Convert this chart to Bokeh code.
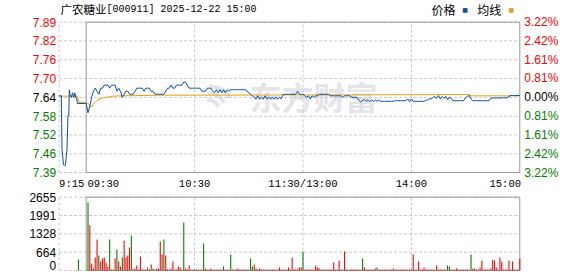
from bokeh.plotting import figure
from bokeh.layouts import column
from bokeh.models import ColumnDataSource, Range1d, LabelSet, Label
from bokeh.core.properties import value
from bokeh.embed import file_html
from bokeh.resources import INLINE

# ---------------- data ----------------
stock_name = "广农糖业"
stock_info = "[000911] 2025-12-22 15:00"
prev_close = 7.64
pct_ticks = [3.22, 2.42, 1.61, 0.81, 0.00, -0.81, -1.61, -2.42, -3.22]
price_tick_labels = ["7.89", "7.82", "7.76", "7.70", "7.64", "7.58", "7.52", "7.46", "7.39"]
pct_tick_labels = ["3.22%", "2.42%", "1.61%", "0.81%", "0.00%", "0.81%", "1.61%", "2.42%", "3.22%"]
tick_colors = ["#ff0000"] * 4 + ["#000000"] + ["#008000"] * 4

time_ticks = [-15, 0, 60, 120, 180, 240]
time_tick_labels = ["9:15", "09:30", "10:30", "11:30/13:00", "14:00", "15:00"]
time_tick_align = ["left", "left", "center", "center", "center", "right"]

vol_ticks = [0, 664, 1328, 1991, 2655]
vol_tick_labels = ["0", "664", "1328", "1991", "2655"]

# call auction (minutes relative to 09:30)
pre_t = [-15.05, -13.78, -13.39, -12.56, -12.01, -11.46, -10.63, -10.07, -9.63, -9.35,
         -8.80, -8.13, -7.58, -6.86, -6.31, -5.76, -5.20, -4.81, 0.0]
pre_price = [7.645, 7.645, 7.47, 7.42, 7.415, 7.42, 7.47, 7.58, 7.58, 7.665,
             7.645, 7.64, 7.655, 7.64, 7.655, 7.64, 7.635, 7.62, 7.62]

# one value per minute, 09:30 .. 15:00 (241 points)
price = [
    7.62, 7.59, 7.61, 7.64, 7.66, 7.67, 7.66, 7.65, 7.67, 7.67,
    7.68, 7.68, 7.68, 7.67, 7.68, 7.68, 7.68, 7.66, 7.67, 7.66,
    7.64, 7.65, 7.66, 7.66, 7.65, 7.65, 7.65, 7.66, 7.67, 7.67,
    7.67, 7.67, 7.66, 7.67, 7.67, 7.67, 7.66, 7.66, 7.65, 7.65,
    7.65, 7.65, 7.65, 7.65, 7.66, 7.67, 7.67, 7.68, 7.67, 7.67,
    7.68, 7.68, 7.68, 7.68, 7.69, 7.69, 7.68, 7.67, 7.67, 7.67,
    7.67, 7.67, 7.67, 7.67, 7.66, 7.66, 7.66, 7.67, 7.67, 7.67,
    7.66, 7.655, 7.665, 7.655, 7.665, 7.655, 7.665, 7.655, 7.665, 7.66,
    7.665, 7.665, 7.665, 7.665, 7.665, 7.665, 7.665, 7.665, 7.665, 7.66,
    7.655, 7.65, 7.645, 7.64, 7.635, 7.645, 7.635, 7.64, 7.635, 7.645,
    7.635, 7.64, 7.635, 7.64, 7.635, 7.64, 7.635, 7.64, 7.635, 7.65,
    7.65, 7.65, 7.65, 7.65, 7.65, 7.65, 7.65, 7.66, 7.65, 7.65,
    7.65, 7.645, 7.64, 7.645, 7.635, 7.645, 7.64, 7.645, 7.645, 7.65,
    7.65, 7.65, 7.65, 7.65, 7.65, 7.645, 7.645, 7.645, 7.645, 7.645,
    7.645, 7.645, 7.64, 7.645, 7.645, 7.645, 7.645, 7.64, 7.64, 7.64,
    7.64, 7.63, 7.625, 7.63, 7.632, 7.627, 7.632, 7.626, 7.632, 7.626,
    7.632, 7.627, 7.632, 7.627, 7.627, 7.627, 7.627, 7.627, 7.627, 7.627,
    7.627, 7.629, 7.629, 7.629, 7.629, 7.629, 7.629, 7.629, 7.635, 7.626,
    7.635, 7.627, 7.627, 7.627, 7.627, 7.627, 7.627, 7.627, 7.63, 7.632,
    7.635, 7.635, 7.64, 7.642, 7.637, 7.646, 7.635, 7.643, 7.637, 7.643,
    7.632, 7.641, 7.637, 7.629, 7.629, 7.629, 7.629, 7.629, 7.629, 7.63,
    7.639, 7.643, 7.646, 7.635, 7.629, 7.629, 7.629, 7.629, 7.629, 7.629,
    7.629, 7.629, 7.629, 7.629, 7.637, 7.638, 7.638, 7.638, 7.638, 7.638,
    7.638, 7.639, 7.638, 7.639, 7.643, 7.646, 7.646, 7.646, 7.646, 7.646,
    7.646,
]

# average price line, read as break points (minute, price)
avg_t = [-15.05, -4.98, -3.87, 0, 1.5, 2, 3.3, 4, 5, 6, 7, 8.5, 10.5, 12, 15, 19, 40, 212, 213, 240]
avg_price = [7.644, 7.644, 7.624, 7.624, 7.618, 7.61, 7.61, 7.62, 7.623, 7.63, 7.633, 7.636,
             7.64, 7.641, 7.644, 7.645, 7.647, 7.649, 7.645, 7.645]

pre_vol_t = [-4.3]
pre_vol = [398]
pre_vol_dir = ["g"]

volume = [
    0, 2462, 1642, 253, 72, 471, 1123, 543, 326, 434,
    471, 290, 145, 1123, 36, 36, 434, 760, 326, 145,
    471, 1086, 471, 543, 833, 1267, 48, 72, 181, 36,
    507, 36, 36, 36, 109, 36, 217, 72, 36, 60,
    72, 1050, 579, 1123, 543, 48, 36, 72, 326, 36,
    36, 145, 109, 36, 1738, 72, 36, 181, 36, 36,
    36, 36, 36, 36, 36, 978, 72, 36, 36, 72,
    36, 36, 36, 36, 36, 36, 145, 36, 36, 36,
    579, 36, 36, 36, 72, 36, 36, 36, 36, 36,
    36, 434, 145, 217, 72, 36, 72, 36, 36, 36,
    36, 36, 36, 36, 36, 36, 36, 109, 36, 36,
    36, 36, 109, 36, 471, 36, 36, 36, 109, 109,
    688, 36, 36, 36, 36, 36, 36, 181, 109, 72,
    36, 36, 36, 36, 36, 36, 36, 290, 36, 36,
    362, 36, 36, 688, 36, 36, 36, 36, 36, 36,
    36, 36, 36, 434, 109, 36, 36, 36, 36, 36,
    72, 109, 36, 36, 36, 36, 36, 36, 36, 36,
    72, 36, 36, 36, 36, 36, 36, 36, 36, 36,
    36, 579, 36, 36, 326, 36, 36, 109, 36, 36,
    36, 36, 36, 36, 181, 36, 36, 36, 36, 36,
    181, 145, 36, 36, 36, 72, 36, 36, 36, 36,
    36, 36, 36, 579, 72, 72, 36, 36, 109, 362,
    36, 36, 36, 36, 72, 398, 362, 109, 36, 471,
    326, 36, 36, 36, 362, 36, 326, 36, 36, 36,
    434,
]
vol_dir = list(
    "rgrrrrrgrr" "rrrgrrrgrr" "grrrrgrrrr" "rrrrgrrgrr" "rrrgrrrrrg"
    "rrrrgrrrgr" "rrgrrgrrrr" "rgrrrrgrrr" "grrrrrgrrr" "rggrrrrrrr"
    "rrgrrrrrrr" "rrrrrrrrrr" "grrrrrrrrr" "rrrrrrrrrr" "rrrrrrrrrr"
    "rrrgrrrrrr" "rgrrrrrrrr" "rrrrrrrrrr" "rrrrrrrrrr" "rrrrrrrrrr"
    "ggrrrrrrrr" "rrrgrrrrrr" "rrrrrrrrrr" "rrrrrrrrrr" "r"
)

# ---------------- styling ----------------
BLUE = "#0b4fa0"
ORANGE = "#e3a21a"
UP = "#ff0000"
DOWN = "#008000"
FRAME = "#999999"
GRID = "#c8c8c8"
WATERMARK = "#e4e4e9"
LABEL_FONT = "Liberation Sans"
MONO_FONT = "Liberation Mono"
CJK_FONT = "Noto Sans CJK SC"

W = 578
X_SCALE = 1.8067           # px per minute
X0_PX, X240_PX = 85.7, 519.3
P_TOP_PX, P_BOT_PX, P_H = 21.7, 172.0, 192
V_TOP_PX, V_BOT_PX, V_H = 4.7, 78.0, 84

minutes = list(range(len(price)))
price_lo = prev_close * (1 + pct_ticks[-1] / 100)
price_hi = prev_close * (1 + pct_ticks[0] / 100)
grid_y = [prev_close * (1 + t / 100) for t in pct_ticks]
grid_x = [time_ticks[0], time_ticks[2], time_ticks[3], time_ticks[4]]

# the frame covers the whole canvas so that tick texts can sit beside the chart boxes
x_range = Range1d(-X0_PX / X_SCALE, time_ticks[-1] + (W - X240_PX) / X_SCALE)
p_scale = (P_BOT_PX - P_TOP_PX) / (price_hi - price_lo)
p_range = Range1d(price_lo - (P_H - P_BOT_PX) / p_scale, price_hi + P_TOP_PX / p_scale)
v_scale = (V_BOT_PX - V_TOP_PX) / vol_ticks[-1]
v_range = Range1d(-(V_H - V_BOT_PX) / v_scale, vol_ticks[-1] + V_TOP_PX / v_scale)


def base_fig(height, y_range):
    f = figure(width=W, height=height, x_range=x_range, y_range=y_range,
               output_backend="svg", toolbar_location=None, title=None,
               x_axis_type=None, y_axis_type=None,
               min_border_left=0, min_border_right=0, min_border_top=0, min_border_bottom=0)
    f.outline_line_color = None
    f.background_fill_color = "white"
    f.border_fill_color = "white"
    return f


p = base_fig(P_H, p_range)

# watermark: logo strokes + text
p.arc(x=[68.0, 68.0, 68.0], y=[7.598, 7.598, 7.598], radius=[10, 17, 24], radius_units="screen",
      start_angle=[0.35, 0.45, 0.55], end_angle=[1.75, 1.65, 1.55],
      line_color=WATERMARK, line_width=4)
p.text(x=[125.8], y=[7.644], text=["东方财富"], text_font=value(CJK_FONT),
       text_font_size="32px", text_font_style="bold", text_color=WATERMARK,
       text_align="center", text_baseline="middle")

# grid + frame
p.segment(x0=time_ticks[0], x1=time_ticks[-1], y0=grid_y, y1=grid_y,
          line_color=GRID, line_dash="3 2", line_width=1)
p.segment(x0=grid_x, x1=grid_x, y0=price_lo, y1=price_hi,
          line_color=GRID, line_dash="3 2", line_width=1)
p.quad(left=[time_ticks[1]], right=[time_ticks[-1]], bottom=[price_lo], top=[price_hi],
       fill_color=None, line_color=FRAME, line_width=1)

# lines
p.line(avg_t, avg_price, line_color=ORANGE, line_width=1)
p.line(pre_t, pre_price, line_color=BLUE, line_width=1)
p.line(minutes, price, line_color=BLUE, line_width=1)

# tick texts (price / percent)
lsrc = ColumnDataSource(dict(y=grid_y, t=price_tick_labels, c=tick_colors))
p.add_layout(LabelSet(x=time_ticks[0], y="y", text="t", source=lsrc, x_offset=-3.0,
                      text_color="c", text_font=value(LABEL_FONT), text_font_size="12px",
                      text_align="right", text_baseline="middle"))
rsrc = ColumnDataSource(dict(y=grid_y, t=pct_tick_labels, c=tick_colors))
p.add_layout(LabelSet(x=time_ticks[-1], y="y", text="t", source=rsrc, x_offset=4.5,
                      text_color="c", text_font=value(LABEL_FONT), text_font_size="12px",
                      text_align="left", text_baseline="middle"))

for t, lab, al in zip(time_ticks, time_tick_labels, time_tick_align):
    off = 1.3 if (al == "left" and t == 0) else (1.2 if al == "right" else 0)
    p.add_layout(Label(x=t, y=price_lo, text=lab, x_offset=off, y_offset=-5,
                       text_font=MONO_FONT, text_font_size="10.5px", text_color="#000000",
                       text_align=al, text_baseline="top"))

# title & legend
p.add_layout(Label(x=time_ticks[0], y=price_hi, text=stock_name, x_offset=1.4, y_offset=13,
                   text_font=CJK_FONT, text_font_size="11.5px", text_color="#000000",
                   text_align="left", text_baseline="middle"))
p.add_layout(Label(x=time_ticks[0], y=price_hi, text=stock_info, x_offset=47.4, y_offset=13,
                   text_font=MONO_FONT, text_font_size="10px", text_color="#000000",
                   text_align="left", text_baseline="middle"))
for lab, off in [("价格", -88.3), ("均线", -42.6)]:
    p.add_layout(Label(x=time_ticks[-1], y=price_hi, text=lab, x_offset=off, y_offset=13,
                       text_font=CJK_FONT, text_font_size="12px", text_color="#000000",
                       text_align="left", text_baseline="middle"))
for off, col in [(-54.8, BLUE), (-8.5, ORANGE)]:
    p.add_layout(Label(x=time_ticks[-1], y=price_hi, text="■", x_offset=off, y_offset=13,
                       text_font="DejaVu Sans", text_font_size="6px", text_color=col,
                       text_align="center", text_baseline="middle"))

# ---------------- volume ----------------
v = base_fig(V_H, v_range)

v.segment(x0=time_ticks[0], x1=time_ticks[-1], y0=vol_ticks, y1=vol_ticks,
          line_color=GRID, line_dash="3 2", line_width=1)
v.segment(x0=grid_x, x1=grid_x, y0=vol_ticks[0], y1=vol_ticks[-1],
          line_color=GRID, line_dash="3 2", line_width=1)
v.quad(left=[time_ticks[1]], right=[time_ticks[-1]], bottom=[vol_ticks[0]], top=[vol_ticks[-1]],
       fill_color=None, line_color=FRAME, line_width=1)

bar_colors = [UP if d == "r" else DOWN for d in vol_dir]
v.vbar(x=minutes, top=volume, width=0.6, fill_color=bar_colors, line_color=None)
v.vbar(x=pre_vol_t, top=pre_vol, width=0.6,
       fill_color=[UP if d == "r" else DOWN for d in pre_vol_dir], line_color=None)

vsrc = ColumnDataSource(dict(y=vol_ticks[1:], t=vol_tick_labels[1:]))
v.add_layout(LabelSet(x=time_ticks[0], y="y", text="t", source=vsrc, x_offset=-3.0,
                      text_color="#000000", text_font=value(LABEL_FONT), text_font_size="12px",
                      text_align="right", text_baseline="middle"))
v.add_layout(Label(x=time_ticks[0], y=vol_ticks[0], text=vol_tick_labels[0], x_offset=-3.0,
                   y_offset=1, text_color="#000000", text_font=LABEL_FONT, text_font_size="12px",
                   text_align="right", text_baseline="bottom"))

layout = column(p, v, spacing=0)
open("out.html", "w").write(file_html(layout, INLINE))
